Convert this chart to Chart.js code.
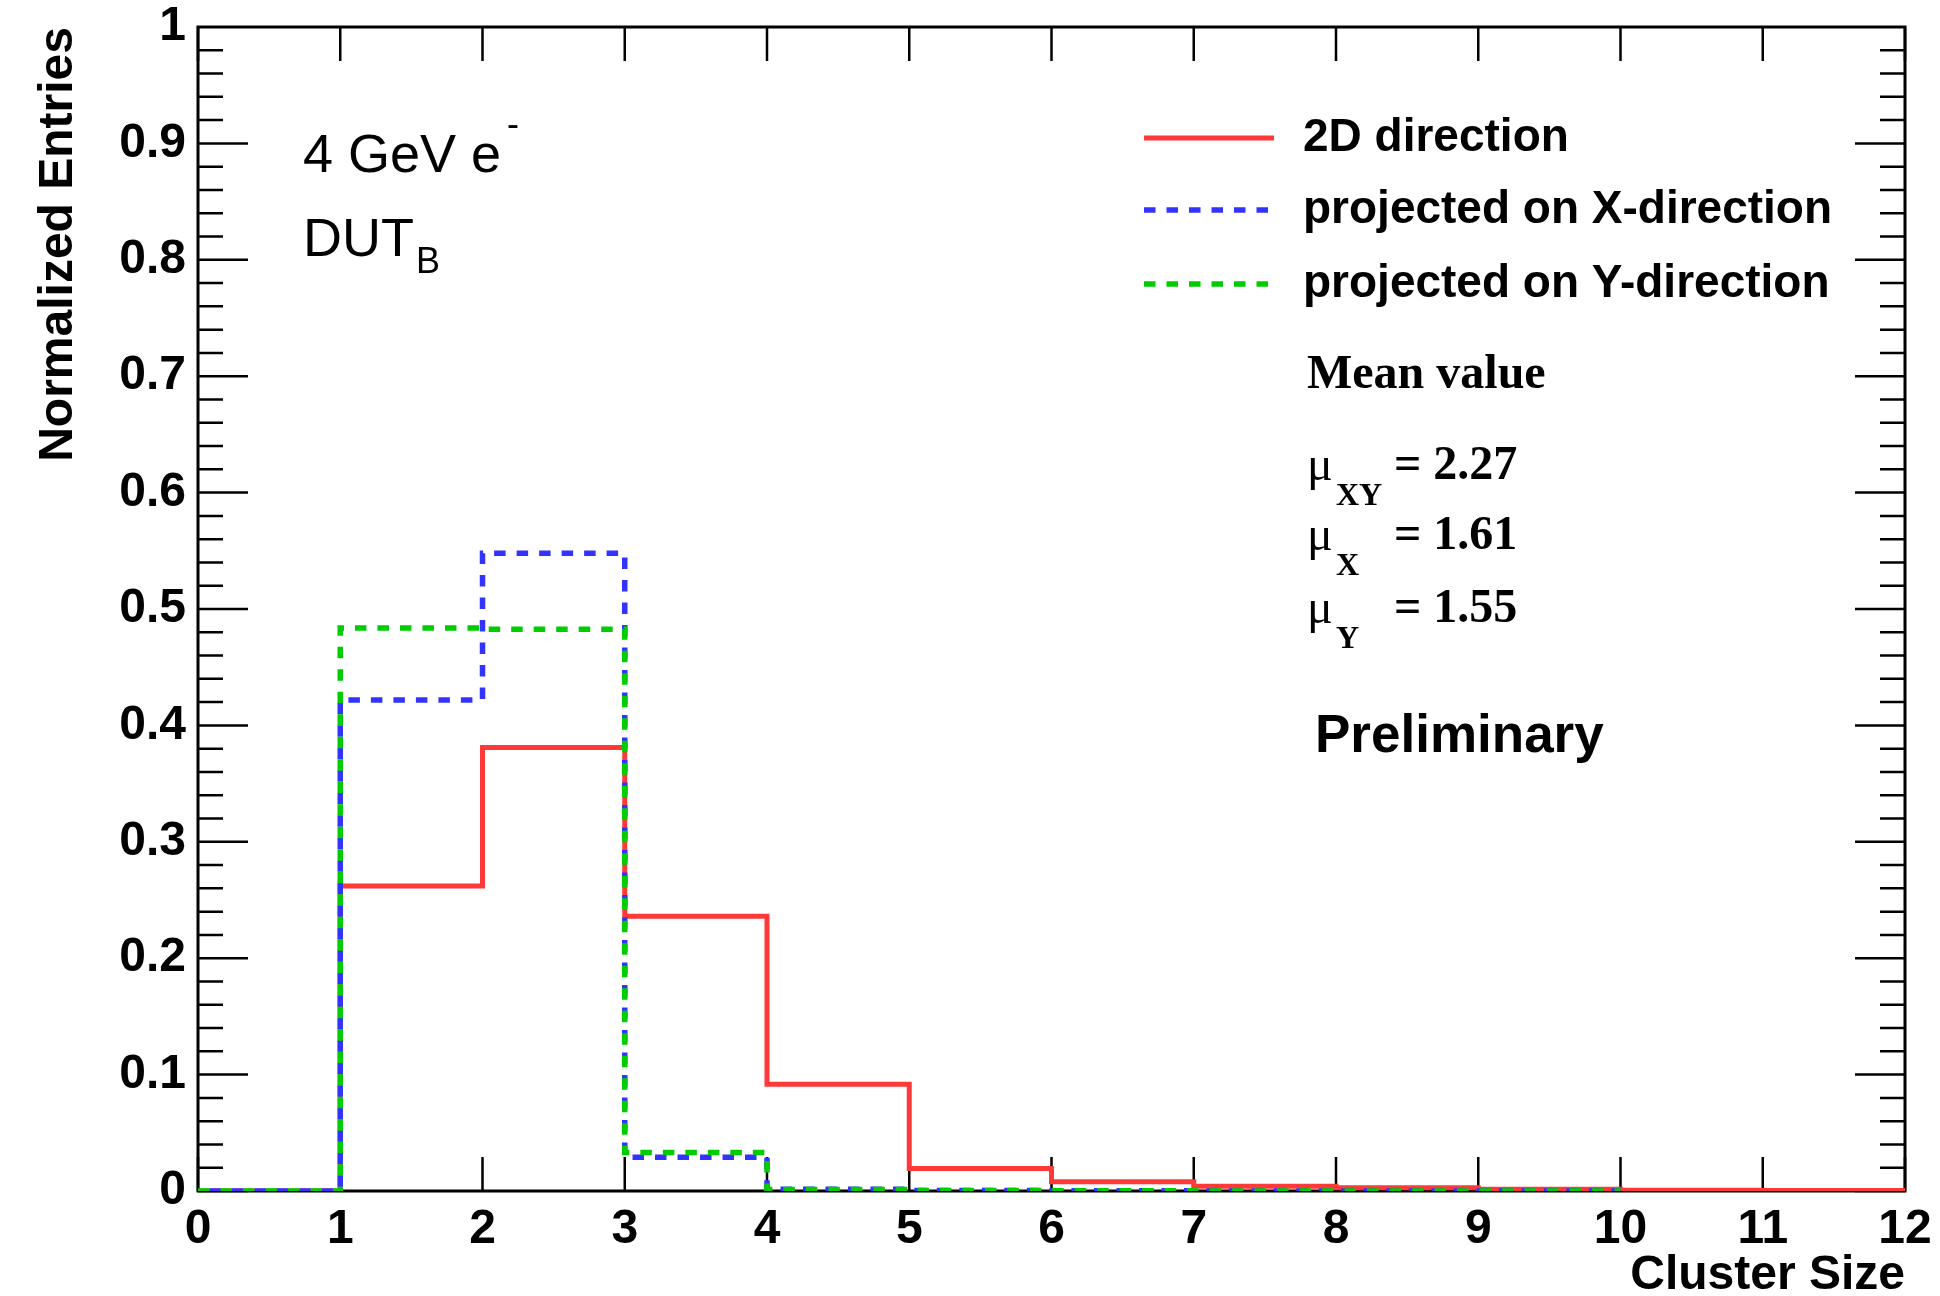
<!DOCTYPE html>
<html>
<head>
<meta charset="utf-8">
<script src="https://cdn.jsdelivr.net/npm/chart.js@4/dist/chart.umd.min.js"></script>
<style>
  html, body { margin: 0; padding: 0; background: #fff; }
  #wrap { width: 1940px; height: 1296px; position: relative; }
</style>
</head>
<body>
<div id="wrap"><canvas id="clusterChart"></canvas></div>
<script>
// cluster size histogram, one value per unit bin starting at 0
const binEdges = [0, 1, 2, 3, 4, 5, 6, 7, 8, 9, 10, 11, 12];
const xTicks = [0, 1, 2, 3, 4, 5, 6, 7, 8, 9, 10, 11, 12];
const yTicks = [0, 0.1, 0.2, 0.3, 0.4, 0.5, 0.6, 0.7, 0.8, 0.9, 1];

const values2D = [0, 0.262, 0.381, 0.236, 0.0917, 0.0193, 0.0079, 0.0041, 0.0027, 0.0015, 0.0006, 0.0004];
const valuesProjX = [0, 0.4219, 0.548, 0.029, 0.0015, 0.0005, 0.0002, 0.0001, 0.0001, 0.0001];
const valuesProjY = [0, 0.4837, 0.4826, 0.033, 0.0012, 0.0004, 0.0002, 0.0001, 0.0001, 0.0001];

const seriesNames = ['2D direction', 'projected on X-direction', 'projected on Y-direction'];
const meanLabels = [['XY', '= 2.27'], ['X', '= 1.61'], ['Y', '= 1.55']];

const SANS = '"Liberation Sans", Arial, sans-serif';
const SERIF = '"Liberation Serif", "Times New Roman", serif';

// turn bin contents into step points (left edge of every bin, plus closing edge)
function toSteps(values) {
    const pts = values.map((v, i) => ({ x: binEdges[i], y: v }));
    pts.push({ x: binEdges[values.length], y: values[values.length - 1] });
    return pts;
}

function tickLabel(v) {
    return String(Number(v.toFixed(1)));
}

// ROOT-like frame: box with inward ticks on all four sides
const framePlugin = {
    id: 'frame',
    beforeDatasetsDraw(chart) {
        const { ctx, chartArea: a, scales: { x, y } } = chart;
        ctx.save();
        ctx.strokeStyle = '#000';
        ctx.lineWidth = 2.5;
        ctx.beginPath();
        xTicks.forEach(v => {
            const px = x.getPixelForValue(v);
            ctx.moveTo(px, a.bottom); ctx.lineTo(px, a.bottom - 34);
            ctx.moveTo(px, a.top); ctx.lineTo(px, a.top + 34);
        });
        for (let i = 0; i < yTicks.length - 1; i++) {
            const step = (yTicks[i + 1] - yTicks[i]) / 5;
            for (let k = 0; k < 5; k++) {
                const py = y.getPixelForValue(yTicks[i] + k * step);
                const len = k === 0 ? 50 : 25;
                ctx.moveTo(a.left, py); ctx.lineTo(a.left + len, py);
                ctx.moveTo(a.right, py); ctx.lineTo(a.right - len, py);
            }
        }
        ctx.stroke();
        ctx.lineWidth = 3;
        ctx.strokeRect(a.left, a.top, a.right - a.left, a.bottom - a.top);
        ctx.restore();
    },
    afterDraw(chart) {
        const { ctx } = chart;
        ctx.save();
        ctx.fillStyle = '#000';
        ctx.textBaseline = 'middle';

        // beam and device labels
        ctx.font = `54px ${SANS}`;
        ctx.fillText('4 GeV e', 303, 157);
        ctx.font = `36px ${SANS}`;
        ctx.fillText('-', 507, 126);
        ctx.font = `54px ${SANS}`;
        ctx.fillText('DUT', 303, 241);
        const dutW = ctx.measureText('DUT').width;
        ctx.font = `36px ${SANS}`;
        ctx.fillText('B', 303 + dutW + 2, 263);

        // legend
        const rows = [138, 210, 284];
        chart.data.datasets.forEach((ds, i) => {
            ctx.strokeStyle = ds.borderColor;
            ctx.lineWidth = ds.borderWidth;
            ctx.setLineDash(ds.borderDash || []);
            ctx.beginPath();
            ctx.moveTo(1144, rows[i]);
            ctx.lineTo(1274, rows[i]);
            ctx.stroke();
            ctx.setLineDash([]);
            ctx.font = `bold 46px ${SANS}`;
            ctx.fillText(ds.label, 1303, rows[i]);
        });

        // mean values
        ctx.font = `bold 48px ${SERIF}`;
        ctx.fillText('Mean value', 1307, 376);
        const meanRows = [467, 537, 610];
        meanLabels.forEach(([sub, txt], i) => {
            ctx.font = `48px ${SERIF}`;
            ctx.fillText('\u03bc', 1307, meanRows[i]);
            ctx.font = `bold 32px ${SERIF}`;
            ctx.fillText(sub, 1336, meanRows[i] + 30);
            ctx.font = `bold 48px ${SERIF}`;
            ctx.fillText(txt, 1394, meanRows[i]);
        });

        ctx.font = `bold 53px ${SANS}`;
        ctx.fillText('Preliminary', 1315, 737);
        ctx.restore();
    }
};

const ctx = document.getElementById('clusterChart').getContext('2d');
new Chart(ctx, {
    type: 'line',
    data: {
        datasets: [
            { label: seriesNames[0], data: toSteps(values2D), borderColor: '#ff3838', borderWidth: 5, order: 3 },
            { label: seriesNames[1], data: toSteps(valuesProjX), borderColor: '#3333ff', borderWidth: 5.5, borderDash: [11.5, 11], borderDashOffset: 11, order: 2 },
            { label: seriesNames[2], data: toSteps(valuesProjY), borderColor: '#00cc00', borderWidth: 5.5, borderDash: [11.5, 11], order: 1 }
        ].map(ds => Object.assign(ds, { stepped: 'before', pointRadius: 0, fill: false, tension: 0 }))
    },
    options: {
        responsive: true,
        maintainAspectRatio: false,
        animation: false,
        layout: { padding: { left: 0, right: 35, top: 27, bottom: 0 } },
        plugins: {
            legend: { display: false },
            tooltip: { enabled: false }
        },
        scales: {
            x: {
                type: 'linear',
                min: 0,
                max: 12,
                grid: { display: false },
                border: { display: false },
                afterBuildTicks: s => { s.ticks = xTicks.map(v => ({ value: v })); },
                afterFit: s => { s.height = 105; s.paddingLeft = 0; s.paddingRight = 0; },
                ticks: {
                    autoSkip: false,
                    maxRotation: 0,
                    padding: 7,
                    color: '#000',
                    font: { family: SANS, size: 48, weight: 'bold', lineHeight: 1 },
                    callback: v => tickLabel(v)
                },
                title: {
                    display: true,
                    text: 'Cluster Size',
                    align: 'end',
                    color: '#000',
                    padding: 0,
                    font: { family: SANS, size: 48, weight: 'bold', lineHeight: 0.85 }
                }
            },
            y: {
                min: 0,
                max: 1,
                grid: { display: false },
                border: { display: false },
                afterBuildTicks: s => { s.ticks = yTicks.map(v => ({ value: v })); },
                afterFit: s => { s.width = 198; s.paddingTop = 0; s.paddingBottom = 0; },
                ticks: {
                    autoSkip: false,
                    padding: 4,
                    color: '#000',
                    font: { family: SANS, size: 48, weight: 'bold', lineHeight: 1 },
                    callback: v => tickLabel(v)
                },
                title: {
                    display: true,
                    text: 'Normalized Entries',
                    align: 'end',
                    color: '#000',
                    padding: { top: 35, bottom: 0 },
                    font: { family: SANS, size: 48, weight: 'bold', lineHeight: 1 }
                }
            }
        }
    },
    plugins: [framePlugin]
});
</script>
</body>
</html>
